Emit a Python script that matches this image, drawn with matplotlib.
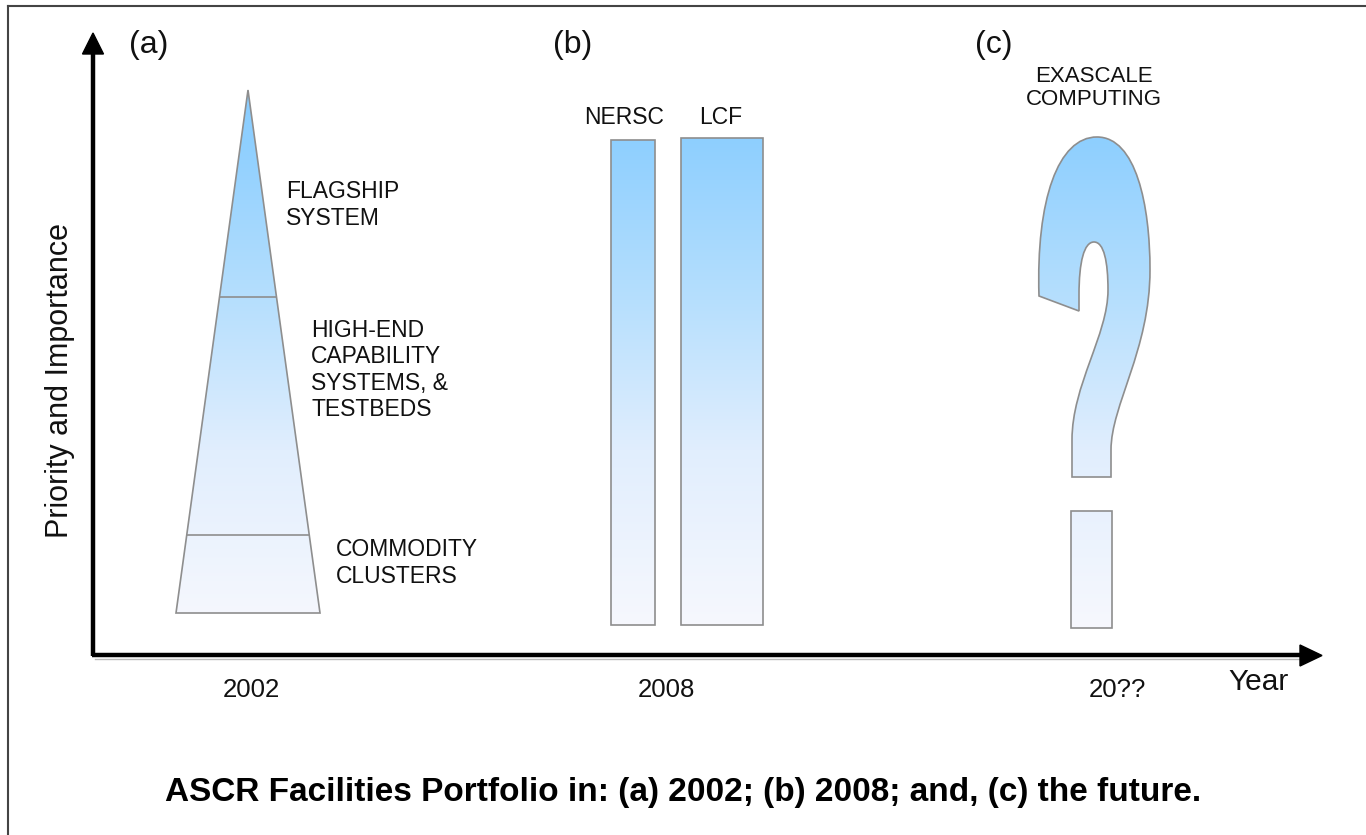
import numpy as np
import matplotlib
matplotlib.use("Agg")
import matplotlib.pyplot as plt
from matplotlib.path import Path
from matplotlib.patches import PathPatch, Polygon, Rectangle

plt.rcParams['font.family'] = ['Liberation Sans', 'DejaVu Sans']

W, H = 1366, 835

# ---- data (diagram units = pixels of the canvas, y grows downward) ----
panel_labels = ["(a)", "(b)", "(c)"]
panel_label_x = [149, 573, 994]
year_labels = ["2002", "2008", "20??"]
year_label_x = [251, 666, 1117]

# (a) pyramid 2002
pyramid_apex = (248, 90)
pyramid_base_y = 613
pyramid_base_x = [176, 320]
tier_y = [297, 535]
tier_labels = ["FLAGSHIP\nSYSTEM", "HIGH-END\nCAPABILITY\nSYSTEMS, &\nTESTBEDS", "COMMODITY\nCLUSTERS"]
tier_label_x = [286, 311, 336]
tier_label_y = [205, 370, 563]

# (b) 2008 facilities
facility_names = ["NERSC", "LCF"]
facility_left = [611, 681]
facility_right = [655, 763]
facility_top = [140, 138]
facility_bottom = [625, 625]
facility_label_x = [624, 721]

# (c) future
future_label = "EXASCALE\nCOMPUTING"
qmark_dot = [1071, 1112, 511, 628]  # left, right, top, bottom

# gradient stops (y position -> colour)
grad_y = [90, 140, 300, 450, 630]
grad_rgb = [(138, 205, 255), (142, 207, 255), (182, 223, 253), (225, 238, 253), (247, 248, 254)]

caption = "ASCR Facilities Portfolio in: (a) 2002; (b) 2008; and, (c) the future."

# ---- figure ----
fig = plt.figure(figsize=(W / 100, H / 100), dpi=100)
ax = fig.add_axes([0, 0, 1, 1])
ax.set_xlim(0, W)
ax.set_ylim(H, 0)
ax.axis('off')

ys = np.arange(0, H)
cols = np.zeros((H, 1, 3))
for c in range(3):
    cols[:, 0, c] = np.interp(ys, grad_y, [rgb[c] / 255 for rgb in grad_rgb])

edge = '#8e8e8e'
txt = '#111111'


def gradient_fill(patch):
    ax.add_patch(patch)
    im = ax.imshow(cols, extent=(0, W, H, 0), aspect='auto', zorder=1, interpolation='bilinear')
    im.set_clip_path(patch)
    outline = PathPatch(patch.get_path(), transform=patch.get_transform(),
                        facecolor='none', edgecolor=edge, lw=1.2, zorder=3)
    ax.add_patch(outline)


# frame (top and left visible)
ax.plot([8, 8], [6, H], color='#444444', lw=1.5, zorder=5)
ax.plot([8, W], [6, 6], color='#444444', lw=1.5, zorder=5)

# pyramid
tri = Polygon([pyramid_apex, (pyramid_base_x[1], pyramid_base_y), (pyramid_base_x[0], pyramid_base_y)],
              closed=True, facecolor='none', edgecolor='none')
gradient_fill(tri)
ax_, ay_ = pyramid_apex
for ty in tier_y:
    f = (ty - ay_) / (pyramid_base_y - ay_)
    xl = ax_ + (pyramid_base_x[0] - ax_) * f
    xr = ax_ + (pyramid_base_x[1] - ax_) * f
    ax.plot([xl, xr], [ty, ty], color=edge, lw=1.2, zorder=3)
for lab, x, y in zip(tier_labels, tier_label_x, tier_label_y):
    ax.text(x, y, lab, fontsize=16.5, ha='left', va='center', linespacing=1.17, color=txt)

# facilities bars
for name, l, r, t, b, lx in zip(facility_names, facility_left, facility_right, facility_top,
                                 facility_bottom, facility_label_x):
    rect = Rectangle((l, t), r - l, b - t, facecolor='none', edgecolor='none')
    gradient_fill(rect)
    ax.text(lx, 117, name, fontsize=16.5, ha='center', va='center', color=txt)

# question mark outline
q_verts = [
    (1039, 296),
    (1036, 200), (1058, 137), (1097, 137),
    (1136, 137), (1150, 205), (1150, 270),
    (1150, 350), (1111, 405), (1111, 450),
    (1111, 477),
    (1072, 477),
    (1072, 440),
    (1072, 385), (1108, 335), (1108, 290),
    (1108, 262), (1104, 242), (1094, 242),
    (1084, 242), (1079, 262), (1079, 295),
    (1079, 311),
    (1039, 296),
]
q_codes = [Path.MOVETO,
           Path.CURVE4, Path.CURVE4, Path.CURVE4,
           Path.CURVE4, Path.CURVE4, Path.CURVE4,
           Path.CURVE4, Path.CURVE4, Path.CURVE4,
           Path.LINETO,
           Path.LINETO,
           Path.LINETO,
           Path.CURVE4, Path.CURVE4, Path.CURVE4,
           Path.CURVE4, Path.CURVE4, Path.CURVE4,
           Path.CURVE4, Path.CURVE4, Path.CURVE4,
           Path.LINETO,
           Path.CLOSEPOLY]
qpatch = PathPatch(Path(q_verts, q_codes), facecolor='none', edgecolor='none')
gradient_fill(qpatch)
l, r, t, b = qmark_dot
dot = Rectangle((l, t), r - l, b - t, facecolor='none', edgecolor='none')
gradient_fill(dot)
ax.text(1094, 88, future_label, fontsize=16, ha='center', va='center', linespacing=1.15, color=txt)

# axes arrows
ax.plot([93, 93], [656, 50], color='black', lw=3.2, solid_capstyle='butt', zorder=6)
ax.add_patch(Polygon([(93, 33), (82.5, 54), (103.5, 54)], closed=True, color='black', zorder=6))
ax.plot([91.5, 1303], [655, 655], color='black', lw=3.2, solid_capstyle='butt', zorder=6)
ax.add_patch(Polygon([(1322, 655.5), (1300, 645), (1300, 666)], closed=True, color='black', zorder=6))
ax.plot([95, 1300], [658.5, 658.5], color='#bbbbbb', lw=1.0, zorder=5)

# texts
for lab, x in zip(panel_labels, panel_label_x):
    ax.text(x, 45, lab, fontsize=23, ha='center', va='center', color=txt)
for lab, x in zip(year_labels, year_label_x):
    ax.text(x, 690, lab, fontsize=18.5, ha='center', va='center', color=txt)
ax.text(1259, 682, "Year", fontsize=21.5, ha='center', va='center', color=txt)
ax.text(60, 380, "Priority and Importance", fontsize=22, rotation=90, ha='center', va='center', color=txt)
ax.text(683, 793, caption, fontsize=24, fontweight='bold', ha='center', va='center', color='black')

fig.savefig("out.png", dpi=100)
